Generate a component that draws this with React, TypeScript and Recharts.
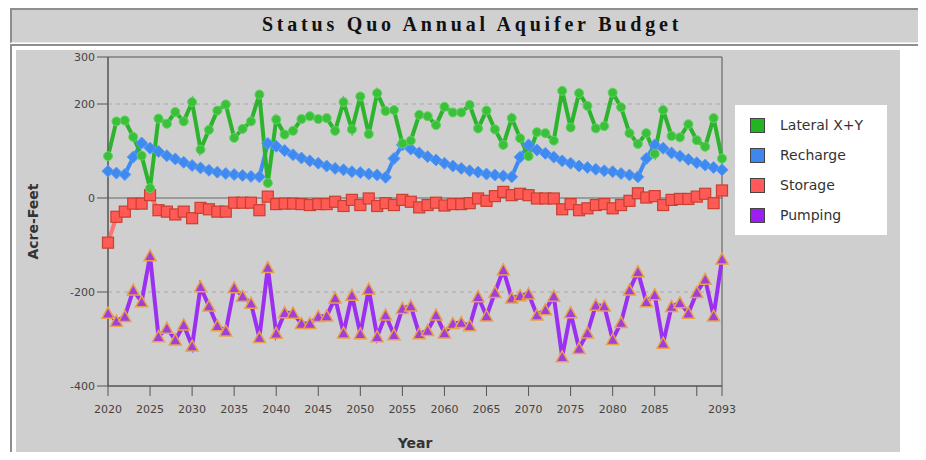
import React from "react";
import {
  LineChart,
  Line,
  XAxis,
  YAxis,
  ReferenceLine,
  ReferenceArea,
  Legend,
} from "recharts";

const years = Array.from({ length: 74 }, (_, i) => 2020 + i);

const lateral = [
  89, 163, 165, 130, 90, 21, 169, 158, 183, 163, 204, 103, 145, 186, 199, 128, 147, 163, 220, 32,
  167, 135, 143, 168, 174, 168, 170, 143, 204, 146, 216, 136, 223, 185, 187, 116, 122, 177, 174, 155,
  194, 182, 182, 198, 148, 186, 146, 113, 170, 127, 89, 140, 138, 122, 228, 150, 223, 196, 148, 153,
  224, 193, 138, 115, 138, 94, 187, 132, 129, 157, 123, 109, 170, 84,
];

const recharge = [
  57, 53, 50, 87, 117, 106, 99, 90, 83, 76, 69, 64, 59, 55, 52, 50, 48, 46, 45, 116,
  110, 101, 92, 85, 79, 74, 68, 63, 60, 56, 54, 51, 49, 44, 84, 113, 104, 96, 88, 81,
  74, 68, 63, 58, 55, 51, 49, 47, 45, 87, 113, 102, 95, 87, 79, 74, 68, 65, 61, 58,
  56, 52, 49, 45, 84, 113, 106, 96, 89, 82, 75, 70, 65, 60,
];

const storage = [
  -95, -40, -29, -12, -12, 6, -26, -29, -35, -29, -43, -21, -24, -29, -29, -10, -10, -10, -26, 3,
  -13, -12, -12, -13, -15, -13, -13, -8, -17, -4, -15, -1, -17, -11, -15, -4, -8, -20, -15, -10,
  -16, -13, -13, -11, -1, -6, 4, 13, 6, 9, 6, -1, -1, -1, -24, -13, -26, -22, -15, -13,
  -22, -15, -6, 10, 1, 4, -15, -4, -2, -2, 3, 9, -11, 16,
];

const pumping = [
  -245, -262, -252, -196, -221, -123, -295, -277, -302, -270, -315, -189, -230, -272, -283, -191, -209, -224, -297, -148,
  -288, -244, -245, -267, -267, -252, -251, -213, -287, -207, -289, -194, -295, -249, -291, -235, -230, -289, -282, -249,
  -287, -267, -265, -272, -210, -251, -201, -153, -213, -208, -204, -249, -238, -209, -338, -244, -320, -287, -228, -230,
  -301, -265, -196, -157, -221, -206, -309, -231, -223, -245, -201, -173, -251, -130,
];

const xTicks = [2020, 2025, 2030, 2035, 2040, 2045, 2050, 2055, 2060, 2065, 2070, 2075, 2080, 2085, 2090, 2093];
const yTicks = [-400, -200, 0, 200, 300];

const seriesNames = ["Lateral X+Y", "Recharge", "Storage", "Pumping"];
const swatchColors = ["#22b422", "#3f86ee", "#ff5a57", "#9c1ff0"];

const data = years.map((year, i) => ({
  year,
  lateral: lateral[i],
  recharge: recharge[i],
  storage: storage[i],
  pumping: pumping[i],
}));

const sans = "'DejaVu Sans', sans-serif";

const circleDot = (p: any) => (
  <circle key={`c-${p.index}`} cx={p.cx} cy={p.cy} r={4.5} fill="#3cc03c" stroke="#5ed45e" strokeWidth={1} />
);

const diamondDot = (p: any) => (
  <polygon
    key={`d-${p.index}`}
    points={`${p.cx},${p.cy - 6} ${p.cx + 6},${p.cy} ${p.cx},${p.cy + 6} ${p.cx - 6},${p.cy}`}
    fill="#3f8af0"
    stroke="#5b9cf2"
    strokeWidth={1}
  />
);

const squareDot = (p: any) => (
  <rect
    key={`s-${p.index}`}
    x={p.cx - 5.5}
    y={p.cy - 5.5}
    width={11}
    height={11}
    fill="#ff5a55"
    stroke="#c8402f"
    strokeWidth={1.2}
  />
);

const triangleDot = (p: any) => (
  <polygon
    key={`t-${p.index}`}
    points={`${p.cx},${p.cy - 6} ${p.cx + 6},${p.cy + 5} ${p.cx - 6},${p.cy + 5}`}
    fill="#a040d8"
    stroke="#e8a04a"
    strokeWidth={1.5}
  />
);

function LegendBox() {
  return (
    <div
      style={{
        background: "#ffffff",
        width: 152,
        height: 130,
        boxSizing: "border-box",
        paddingTop: 5,
        fontFamily: sans,
        fontSize: 14,
        color: "#333",
      }}
    >
      {seriesNames.map((name, i) => (
        <div key={name} style={{ display: "flex", alignItems: "center", height: 30, paddingLeft: 15 }}>
          <span
            style={{
              width: 15,
              height: 15,
              background: swatchColors[i],
              border: "1px solid #444",
              boxSizing: "border-box",
              marginRight: 15,
            }}
          />
          <span>{name}</span>
        </div>
      ))}
    </div>
  );
}

export default function App() {
  return (
    <div
      style={{
        position: "relative",
        width: 926,
        height: 460,
        margin: -8,
        overflow: "hidden",
        background: "#ffffff",
      }}
    >
      {/* table frame */}
      <div
        style={{
          position: "absolute",
          left: 4,
          top: 3,
          width: 930,
          height: 470,
          borderLeft: "2px solid #cdcdcd",
          borderTop: "2px solid #cdcdcd",
        }}
      />
      <div
        style={{
          position: "absolute",
          left: 10,
          top: 8,
          width: 930,
          height: 32,
          background: "#d0d0d0",
          borderTop: "2px solid #8e8e8e",
          borderLeft: "2px solid #8e8e8e",
          borderBottom: "1px solid #ececec",
        }}
      />
      <div
        style={{
          position: "absolute",
          left: 10,
          top: 13,
          width: 924,
          textAlign: "center",
          fontFamily: "'Liberation Serif', serif",
          fontWeight: "bold",
          fontSize: 20,
          letterSpacing: 3.8,
          color: "#111",
        }}
      >
        Status Quo Annual Aquifer Budget
      </div>
      <div
        style={{
          position: "absolute",
          left: 10,
          top: 44,
          width: 930,
          height: 430,
          borderTop: "2px solid #8e8e8e",
          borderLeft: "2px solid #8e8e8e",
        }}
      />
      <div
        style={{
          position: "absolute",
          left: 16,
          top: 50,
          width: 884,
          height: 420,
          background: "#cfcfcf",
        }}
      />
      <div style={{ position: "absolute", left: 0, top: 0 }}>
        <LineChart
          width={926}
          height={460}
          data={data}
          margin={{ top: 57, right: 204, left: 48, bottom: 30 }}
        >
          <XAxis
            dataKey="year"
            type="number"
            domain={[2020, 2093]}
            ticks={xTicks}
            interval={0}
            tickFormatter={(v) => (v === 2090 ? "" : String(v))}
            height={44}
            tickSize={10}
            tickMargin={9}
            stroke="#555"
            tick={{ fill: "#444", fontSize: 11, fontFamily: sans }}
            label={{
              value: "Year",
              position: "insideBottom",
              offset: -18,
              fill: "#333",
              fontSize: 14,
              fontWeight: "bold",
              fontFamily: sans,
            }}
          />
          <YAxis
            type="number"
            domain={[-400, 300]}
            ticks={yTicks}
            interval={0}
            width={60}
            tickSize={11}
            stroke="#555"
            tick={{ fill: "#444", fontSize: 11, fontFamily: sans }}
            label={{
              value: "Acre-Feet",
              angle: -90,
              position: "insideLeft",
              offset: -15,
              style: { textAnchor: "middle" },
              fill: "#333",
              fontSize: 14,
              fontWeight: "bold",
              fontFamily: sans,
            }}
          />
          <ReferenceLine y={200} stroke="#a8a8a8" strokeDasharray="4 4" />
          <ReferenceLine y={-200} stroke="#a8a8a8" strokeDasharray="4 4" />
          <ReferenceLine y={0} stroke="#666" />
          <ReferenceArea x1={2020} x2={2093} y1={-400} y2={300} fill="none" stroke="#555" />
          <Legend
            verticalAlign="middle"
            align="center"
            layout="vertical"
            content={() => <LegendBox />}
            wrapperStyle={{ position: "absolute", left: 735, top: 105, width: 152, height: 130 }}
          />
          <Line
            dataKey="pumping"
            name="Pumping"
            stroke="#9b2ff2"
            strokeWidth={4}
            dot={triangleDot}
            isAnimationActive={false}
          />
          <Line
            dataKey="storage"
            name="Storage"
            stroke="#ff7272"
            strokeWidth={4}
            dot={squareDot}
            isAnimationActive={false}
          />
          <Line
            dataKey="recharge"
            name="Recharge"
            stroke="#3f8af0"
            strokeWidth={4}
            dot={diamondDot}
            isAnimationActive={false}
          />
          <Line
            dataKey="lateral"
            name="Lateral X+Y"
            stroke="#2db42d"
            strokeWidth={4}
            dot={circleDot}
            isAnimationActive={false}
          />
        </LineChart>
      </div>
    </div>
  );
}
